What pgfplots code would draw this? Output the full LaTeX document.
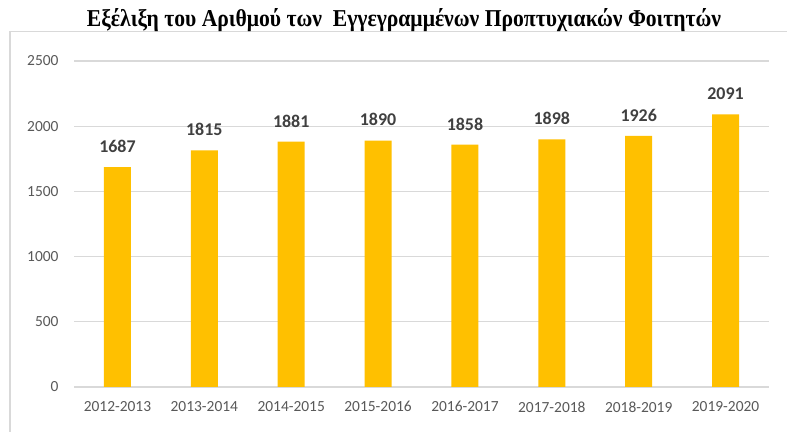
\documentclass[border=0pt]{standalone}
\usepackage{fontspec}
\setmainfont{Liberation Serif}
\newfontfamily\carlito{Carlito}
\usepackage{pgfplots}
\pgfplotsset{compat=1.18}
\definecolor{barcol}{HTML}{FFC000}
\definecolor{gridc}{HTML}{D9D9D9}
\definecolor{tickc}{HTML}{595959}
\definecolor{labc}{HTML}{404040}
\begin{document}
\begin{tikzpicture}
\path[use as bounding box] (0,0) rectangle (787bp,432bp);
\fill[white] (0,0) rectangle (787bp,432bp);
\draw[gridc, line width=1.3bp] (10bp,-5bp) -- (10bp,400.5bp) -- (792bp,400.5bp);
\node[font=\bfseries\fontsize{21.7}{24}\selectfont, anchor=base] at (404bp,405bp) {\scalebox{1}[1.12]{Εξέλιξη του Αριθμού των\ \ Εγγεγραμμένων Προπτυχιακών Φοιτητών}};
\begin{axis}[
  at={(74bp,45bp)}, anchor=south west,
  scale only axis, width=695bp, height=326bp,
  ymin=0, ymax=2500, ytick={0,500,...,2500},
  xmin=-0.5, xmax=7.5, xtick={0,...,7},
  xticklabels={2012-2013,2013-2014,2014-2015,2015-2016,2016-2017,2017-2018,2018-2019,2019-2020},
  axis line style={draw=none},
  ymajorgrids, grid style={gridc, line width=1.2bp},
  major tick length=0pt,
  tick label style={font=\carlito\fontsize{15.5}{17}\selectfont, text=tickc},
  /pgf/number format/assume math mode=true,
  /pgf/number format/set thousands separator={},
  yticklabel style={xshift=-12bp},
  xticklabel style={yshift=-11bp},
  extra y ticks={0}, extra y tick style={grid style={gridc, line width=1.8bp}},
  extra y tick labels={},
  clip=false,
]
\addplot[ybar, bar width=27bp, fill=barcol, draw=none,
  nodes near coords,
  every node near coord/.append style={font=\carlito\bfseries\fontsize{18}{20}\selectfont, text=labc, anchor=south, yshift=11bp},
] coordinates {(0,1687) (1,1815) (2,1881) (3,1890) (4,1858) (5,1898) (6,1926) (7,2091)};
\end{axis}
\end{tikzpicture}
\end{document}
